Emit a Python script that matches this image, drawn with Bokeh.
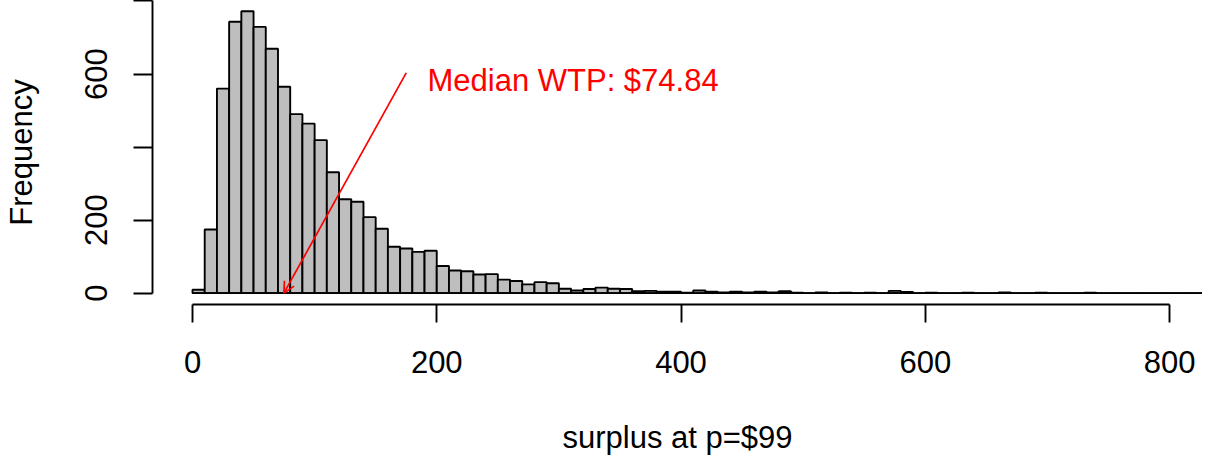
from bokeh.plotting import figure
from bokeh.embed import file_html
from bokeh.resources import INLINE
from bokeh.models import Range1d, FixedTicker, Arrow, OpenHead, Label, ColumnDataSource

# ---- data (bin width 10) ----
bin_width = 10
bin_starts = list(range(0, 840, 10))
counts = [
    9, 174, 560, 743, 772, 729, 669, 565, 490, 464,
    419, 331, 257, 250, 208, 176, 127, 122, 113, 116,
    74, 62, 60, 51, 52, 37, 33, 24, 30, 27,
    12, 7, 11, 15, 12, 11, 5, 6, 4, 4,
    1, 7, 4, 2, 4, 2, 4, 2, 5, 1,
    0, 2, 0, 1, 0, 1, 0, 6, 3, 0,
    1, 0, 0, 1, 0, 0, 2, 0, 0, 1,
    0, 0, 0, 1, 0, 0, 0, 0, 0, 0,
    0, 0, 0, 2,
]
x_ticks = [0, 200, 400, 600, 800]
y_ticks = [0, 200, 400, 600, 800]
y_tick_labels = {0: "0", 200: "200", 400: "", 600: "600", 800: ""}
median_wtp = 74.84
annot_text = "Median WTP: $74.84"
x_title = "surplus at p=$99"
y_title = "Frequency"

FONT = "Liberation Sans"
FS = "31px"

src = ColumnDataSource(dict(
    left=bin_starts,
    right=[b + bin_width for b in bin_starts],
    top=counts,
    bottom=[0] * len(counts),
))

p = figure(width=1202, height=457, output_backend="svg", toolbar_location=None,
           x_range=Range1d(-32.75, 827.0), y_range=Range1d(-31.25, 801.3),
           min_border_left=152, min_border_right=0, min_border_top=0, min_border_bottom=148)
p.outline_line_color = None
p.background_fill_color = "white"
p.border_fill_color = "white"
p.xgrid.visible = False
p.ygrid.visible = False

p.quad(left="left", right="right", top="top", bottom="bottom", source=src,
       fill_color="#BEBEBE", line_color="black", line_width=1.9)
p.line(x=[bin_starts[0], bin_starts[-1] + bin_width], y=[0, 0], line_color="black", line_width=1.9)

# axes
for ax in (p.xaxis[0], p.yaxis[0]):
    ax.axis_line_width = 1.9
    ax.axis_line_color = "black"
    ax.major_tick_line_width = 1.9
    ax.major_tick_line_color = "black"
    ax.major_tick_in = 0
    ax.minor_tick_line_color = None
    ax.major_label_text_font = FONT
    ax.major_label_text_font_size = FS
    ax.major_label_text_color = "black"
    ax.axis_label_text_font = FONT
    ax.axis_label_text_font_size = FS
    ax.axis_label_text_font_style = "normal"
    ax.axis_label_text_color = "black"
    ax.bounds = (0, 800)

xa = p.xaxis[0]
xa.ticker = FixedTicker(ticks=x_ticks)
xa.major_tick_out = 18
xa.major_label_standoff = 28
xa.axis_label = x_title
xa.axis_label_standoff = 44

ya = p.yaxis[0]
ya.ticker = FixedTicker(ticks=y_ticks)
ya.major_tick_out = 19
ya.major_label_overrides = y_tick_labels
ya.major_label_orientation = "vertical"
ya.major_label_standoff = 26
ya.axis_label = y_title
ya.axis_label_standoff = 44

# annotation
p.add_layout(Arrow(end=OpenHead(size=11, line_color="red", line_width=1.7),
                   x_start=175, y_start=603, x_end=median_wtp, y_end=0,
                   line_color="red", line_width=1.7))
p.add_layout(Label(x=192.4, y=582, text=annot_text, text_align="left", text_baseline="alphabetic",
                   text_font=FONT, text_font_size=FS, text_color="red"))

open("out.html", "w").write(file_html(p, INLINE))
